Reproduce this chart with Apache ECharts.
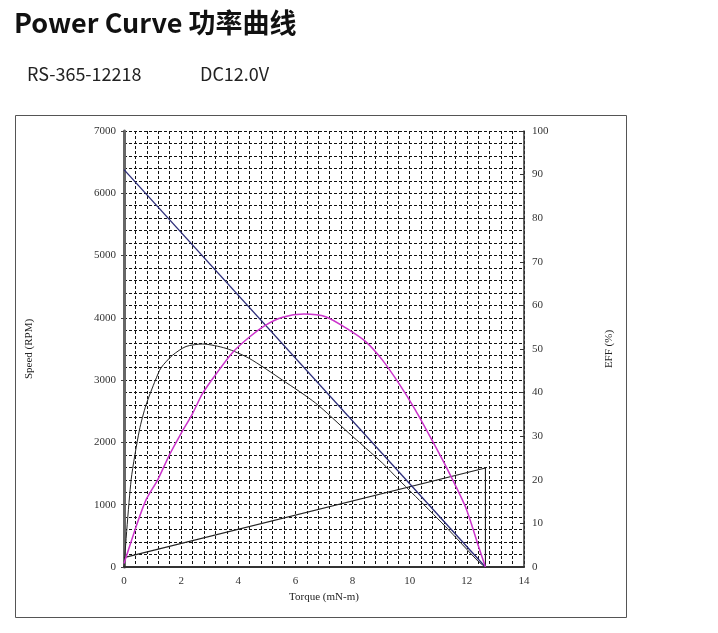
<!DOCTYPE html>
<html>
<head>
<meta charset="utf-8">
<script src="https://cdn.jsdelivr.net/npm/echarts@6/dist/echarts.min.js"></script>
<style>
html,body{margin:0;padding:0;background:#fff;}
#c{width:718px;height:633px;}
</style>
</head>
<body>
<div id="c"></div>
<script>
// ---- data ----
const xTicks = [0, 2, 4, 6, 8, 10, 12, 14];
const speedTorque = [0, 12.65];
const speedRpm = [6380, 0];
const currentTorque = [0, 12.65, 12.65];
const currentVal = [150, 1590, 0];
const effTorque = [0, 0.42, 0.77, 1.18, 1.59, 1.97, 2.40, 2.75, 3.16, 3.80, 4.38, 4.96, 5.55, 6.30, 7.06, 7.87, 8.46, 9.04, 9.62, 10.20, 10.78, 11.25, 11.95, 12.41, 12.65];
const effPct = [0.8, 9.2, 15.4, 20.0, 25.7, 30.3, 35.2, 39.8, 43.7, 49.2, 52.7, 55.5, 57.3, 58.0, 57.4, 54.4, 51.7, 47.5, 42.1, 36.0, 29.1, 23.3, 13.8, 4.7, 0];
const powTorque = [0, 0.25, 0.54, 0.77, 1.10, 1.30, 1.70, 2.17, 2.75, 3.57, 4.38, 5.55, 6.71, 7.87, 9.04, 9.62, 10.08, 11.25, 12.41, 12.65];
const powVal = [0, 1400, 2200, 2600, 3000, 3200, 3400, 3540, 3580, 3510, 3350, 3000, 2630, 2150, 1670, 1400, 1190, 650, 85, 0];

const zip = (a, b) => a.map((v, i) => [v, b[i]]);

const serif = 'Liberation Serif';
const dash = { color: '#111', width: 1, type: [3, 2] };

const chart = echarts.init(document.getElementById('c'), null, { renderer: 'canvas' });
chart.setOption({
  animation: false,
  backgroundColor: '#fff',
  title: {
    text: 'Power Curve 功率曲线',
    left: 9, top: 4,
    textStyle: { fontFamily: 'Noto Sans CJK SC', fontWeight: 'bold', fontSize: 27, color: '#111' }
  },
  graphic: [
    { type: 'text', left: 27, top: 65, style: { text: 'RS-365-12218', font: '18px "Noto Sans CJK SC"', fill: '#222' } },
    { type: 'text', left: 200, top: 65, style: { text: 'DC12.0V', font: '18px "Noto Sans CJK SC"', fill: '#222' } },
    { type: 'rect', shape: { x: 15.5, y: 115.5, width: 611, height: 502 }, style: { fill: null, stroke: '#555', lineWidth: 1 }, z: -1 }
  ],
  grid: { left: 124, top: 131, width: 400, height: 436, show: false },
  xAxis: {
    type: 'value', min: 0, max: 14, interval: 2,
    name: 'Torque (mN-m)', nameLocation: 'middle', nameGap: 22,
    nameTextStyle: { fontFamily: serif, fontSize: 11, color: '#222' },
    axisLine: { show: true, onZero: false, lineStyle: { color: '#333', width: 2 } },
    axisTick: { show: false },
    axisLabel: { fontFamily: serif, fontSize: 11, color: '#333', margin: 9,
      formatter: v => xTicks.includes(v) ? String(v) : '' },
    splitLine: { show: true, lineStyle: dash },
    minorTick: { show: false, splitNumber: 5 },
    minorSplitLine: { show: true, lineStyle: dash }
  },
  yAxis: [
    {
      type: 'value', min: 0, max: 7000, interval: 1000, position: 'left',
      name: 'Speed (RPM)', nameLocation: 'middle', nameRotate: 90, nameGap: 89,
      nameTextStyle: { fontFamily: serif, fontSize: 11, color: '#222' },
      axisLine: { show: true, onZero: false, lineStyle: { color: '#666', width: 3 } },
      axisTick: { show: true, length: 3, lineStyle: { color: '#444' } },
      axisLabel: { fontFamily: serif, fontSize: 11, color: '#333', margin: 8, formatter: v => String(v) },
      splitLine: { show: true, lineStyle: dash },
      minorTick: { show: false, splitNumber: 5 },
      minorSplitLine: { show: true, lineStyle: dash }
    },
    {
      type: 'value', min: 0, max: 100, interval: 10, position: 'right',
      name: 'EFF (%)', nameLocation: 'middle', nameRotate: 90, nameGap: 80,
      nameTextStyle: { fontFamily: serif, fontSize: 11, color: '#222' },
      axisLine: { show: true, onZero: false, lineStyle: { color: '#333', width: 1.5 } },
      axisTick: { show: true, inside: true, length: 4, lineStyle: { color: '#333' } },
      axisLabel: { fontFamily: serif, fontSize: 11, color: '#333', margin: 8, formatter: v => String(v) },
      splitLine: { show: false }
    }
  ],
  series: [
    { name: 'Speed', type: 'line', data: zip(speedTorque, speedRpm), showSymbol: false,
      lineStyle: { color: '#2b2b78', width: 1.3 }, z: 5 },
    { name: 'Current', type: 'line', data: zip(currentTorque, currentVal), showSymbol: false,
      lineStyle: { color: '#222', width: 1.1 }, z: 4 },
    { name: 'Power', type: 'line', data: zip(powTorque, powVal), showSymbol: false,
      smooth: 0.25,
      lineStyle: { color: '#222', width: 1 }, z: 4 },
    { name: 'EFF', type: 'line', yAxisIndex: 1, data: zip(effTorque, effPct), showSymbol: false,
      smooth: 0.25,
      lineStyle: { color: '#cc33cc', width: 1.5 }, z: 6 }
  ]
});
</script>
</body>
</html>
